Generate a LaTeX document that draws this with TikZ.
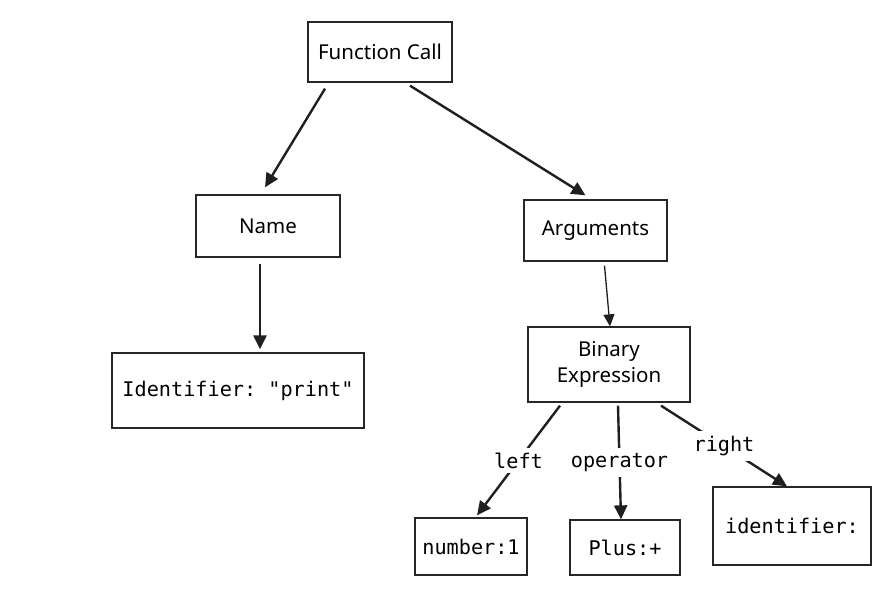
\documentclass[tikz,border=0pt]{standalone}
\usepackage{fontspec}
\setmainfont{Noto Sans}
\setmonofont{DejaVu Sans Mono}
\usetikzlibrary{arrows.meta}
\tikzset{
  box/.style={draw=black!85, line width=1.3pt, rectangle, inner sep=0pt, align=center},
  hand/.style={font=\fontsize{20.5}{26}\selectfont},
  code/.style={font=\ttfamily\fontsize{20.2}{24}\selectfont},
  conn/.style={draw=black!88, line width=2.4pt, -{Triangle[length=14pt,width=13pt]}},
  thinconn/.style={draw=black!88, line width=1.3pt, -{Triangle[length=12pt,width=11pt]}},
  lbl/.style={fill=white, inner sep=5pt, font=\ttfamily\fontsize{20.2}{24}\selectfont}
}
\begin{document}
\begin{tikzpicture}[x=1pt,y=-1pt]
\useasboundingbox (0,0) rectangle (891,595);
\node[box,hand,minimum width=144pt,minimum height=60pt] (fc) at (380,52) {Function Call};
\node[box,hand,minimum width=144pt,minimum height=62pt] (name) at (268,226) {Name};
\node[box,code,minimum width=252pt,minimum height=75pt] (ident) at (238,390.5) {Identifier: "print"};
\node[box,hand,minimum width=143pt,minimum height=61pt] (args) at (595.5,230.5) {Arguments};
\node[box,hand,minimum width=162pt,minimum height=75pt] (bin) at (609,364.5) {Binary\\Expression};
\node[box,code,minimum width=112pt,minimum height=57pt] (num) at (471,546.5) {number:1};
\node[box,code,minimum width=110pt,minimum height=55pt] (plus) at (625,547.5) {Plus:+};
\node[box,code,minimum width=158pt,minimum height=78pt] (idr) at (792,526) {identifier:};

\draw[conn] ([xshift=-55pt,yshift=-6pt]fc.south) -- ([xshift=-3pt,yshift=7pt]name.north);
\draw[conn] ([xshift=30pt,yshift=-3pt]fc.south) -- ([xshift=-10pt,yshift=4pt]args.north);
\draw[conn] ([xshift=-8pt,yshift=-6pt]name.south) -- ([xshift=22pt,yshift=3pt]ident.north);
\draw[thinconn] ([xshift=9pt,yshift=-4pt]args.south) -- ([xshift=1pt]bin.north);
\draw[conn] ([xshift=-49pt,yshift=-3pt]bin.south) -- node[lbl] {left} ([xshift=6pt,yshift=2pt]num.north);
\draw[conn] ([xshift=9pt,yshift=-3pt]bin.south) -- node[lbl] {operator} ([xshift=-4pt]plus.north);
\draw[conn] ([xshift=52pt,yshift=-3pt]bin.south) -- node[lbl] {right} ([xshift=-5pt]idr.north);
\end{tikzpicture}
\end{document}
